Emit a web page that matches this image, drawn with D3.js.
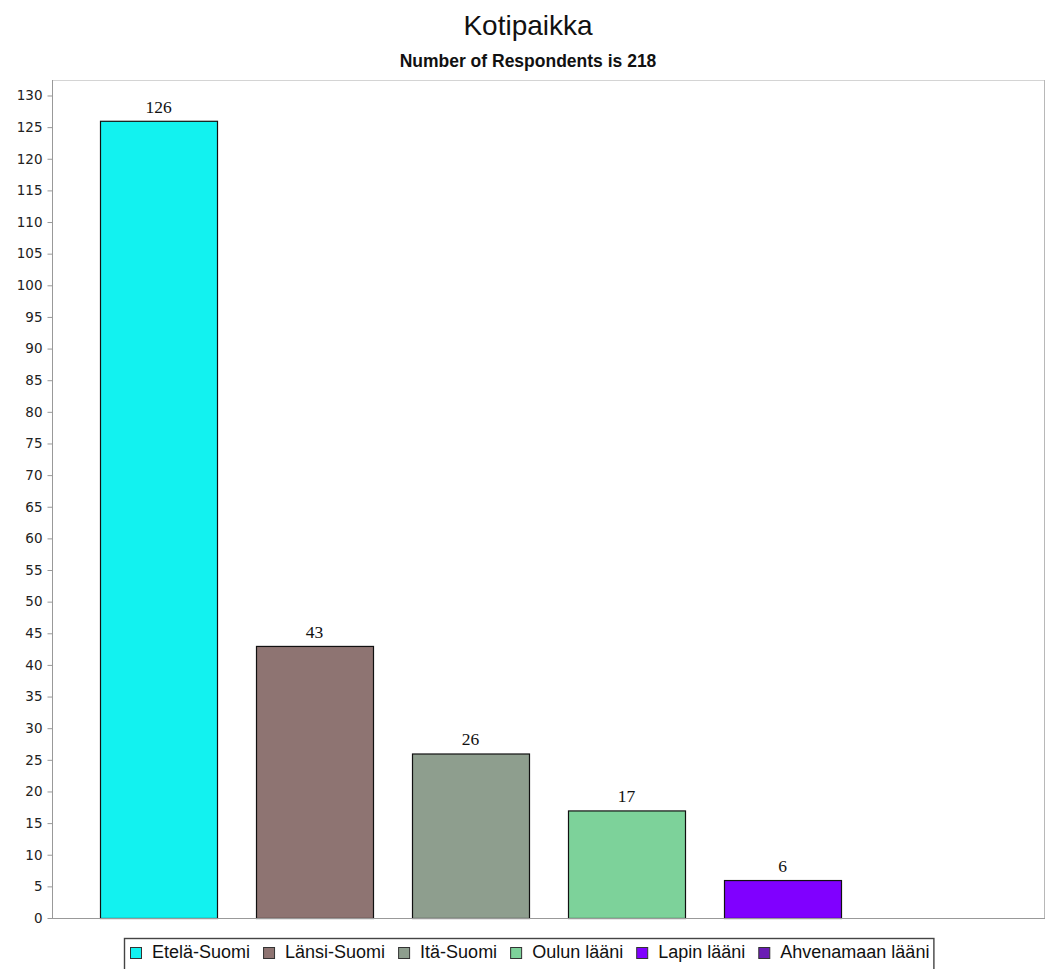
<!DOCTYPE html>
<html>
<head>
<meta charset="utf-8">
<script src="https://cdn.jsdelivr.net/npm/d3@7"></script>
<style>
  html, body { margin: 0; padding: 0; background: #fff; }
  svg { display: block; }
</style>
</head>
<body>
<script>
// Region of residence of survey respondents
const categories = ["Etelä-Suomi", "Länsi-Suomi", "Itä-Suomi", "Oulun lääni", "Lapin lääni", "Ahvenamaan lääni"];
const counts = [126, 43, 26, 17, 6, 0];
const colors = ["#12F2F0", "#8E7472", "#8E9E8E", "#7DD29A", "#8000FF", "#6A1CB4"];
const yTicks = d3.range(0, 131, 5);
const titleText = "Kotipaikka";
const subtitleText = "Number of Respondents is 218";

const W = 1047, H = 969;
const plot = { left: 52, right: 1045, top: 80, bottom: 918 };
const sans = "Liberation Sans, Arial, sans-serif";

const svg = d3.select("body").append("svg").attr("width", W).attr("height", H);

svg.append("text")
  .attr("x", 528).attr("y", 35)
  .attr("text-anchor", "middle")
  .style("font-family", sans)
  .style("font-size", "28px")
  .attr("fill", "#111")
  .text(titleText);

svg.append("text")
  .attr("x", 528).attr("y", 67)
  .attr("text-anchor", "middle")
  .style("font-family", sans)
  .style("font-size", "17.5px")
  .style("font-weight", "bold")
  .attr("fill", "#111")
  .text(subtitleText);

const y = d3.scaleLinear().domain([0, 130]).range([plot.bottom, plot.bottom - 130 * 6.327]);
const x = d3.scaleBand().domain(categories)
  .range([plot.left + 28.5, plot.right - 28.5])
  .paddingInner(0.25).paddingOuter(0.125);

// plot frame (light top/right edges)
svg.append("line").attr("x1", plot.left).attr("x2", plot.right).attr("y1", plot.top + 0.5).attr("y2", plot.top + 0.5)
  .attr("stroke", "#d4d4d4");
svg.append("line").attr("x1", plot.right - 0.5).attr("x2", plot.right - 0.5).attr("y1", plot.top).attr("y2", plot.bottom)
  .attr("stroke", "#b8b8b8");

const barData = categories.map((c, i) => ({ c, v: counts[i], col: colors[i] })).filter(d => d.v > 0);

// bars
svg.append("g").selectAll("rect")
  .data(barData)
  .join("rect")
  .attr("x", d => x(d.c) + 0.5)
  .attr("y", d => y(d.v) + 0.5)
  .attr("width", x.bandwidth())
  .attr("height", d => y(0) - y(d.v))
  .attr("fill", d => d.col)
  .attr("stroke", "#111")
  .attr("stroke-width", 1.2);

// value labels
svg.append("g").selectAll("text")
  .data(barData)
  .join("text")
  .attr("x", d => x(d.c) + x.bandwidth() / 2)
  .attr("y", d => y(d.v) - 8)
  .attr("text-anchor", "middle")
  .style("font-family", "Liberation Serif, Times New Roman, serif")
  .style("font-size", "17.5px")
  .attr("fill", "#111")
  .text(d => d.v);

// y axis
const yAxis = d3.axisLeft(y).tickValues(yTicks).tickSize(5).tickPadding(5);
const gy = svg.append("g").attr("transform", `translate(${plot.left + 0.5},0)`).call(yAxis);
gy.select(".domain").attr("stroke", "#999").attr("d", `M0,${plot.top}V${plot.bottom + 0.5}`);
gy.selectAll(".tick line").attr("stroke", "#999");
gy.selectAll(".tick text")
  .style("font-family", "DejaVu Sans, sans-serif")
  .style("font-size", "13.5px")
  .attr("fill", "#222");

// x axis baseline
svg.append("line").attr("x1", plot.left).attr("x2", plot.right).attr("y1", plot.bottom + 0.5).attr("y2", plot.bottom + 0.5)
  .attr("stroke", "#999");

// legend
const legend = svg.append("g");
const lgX = 124, lgY = 938, lgFont = 18, textOffset = 22, itemGap = 13;
const measure = svg.append("text").style("font-family", sans).style("font-size", lgFont + "px");
let cx = lgX + 6;
const positions = [];
categories.forEach(c => {
  measure.text(c);
  const w = measure.node().getComputedTextLength();
  positions.push(cx);
  cx += textOffset + w + itemGap;
});
measure.remove();
const lgW = cx - itemGap + 4 - lgX;
legend.append("rect")
  .attr("x", lgX + 0.5).attr("y", lgY + 0.5)
  .attr("width", lgW).attr("height", 40)
  .attr("fill", "#fff").attr("stroke", "#444").attr("stroke-width", 1.4);
const items = legend.selectAll("g").data(categories).join("g")
  .attr("transform", (d, i) => `translate(${positions[i]},0)`);
items.append("rect")
  .attr("x", 0.5).attr("y", lgY + 9.5)
  .attr("width", 11).attr("height", 11)
  .attr("fill", (d, i) => colors[i])
  .attr("stroke", "#333");
items.append("text")
  .attr("x", textOffset).attr("y", lgY + 20)
  .style("font-family", sans)
  .style("font-size", lgFont + "px")
  .attr("fill", "#111")
  .text(d => d);
</script>
</body>
</html>
